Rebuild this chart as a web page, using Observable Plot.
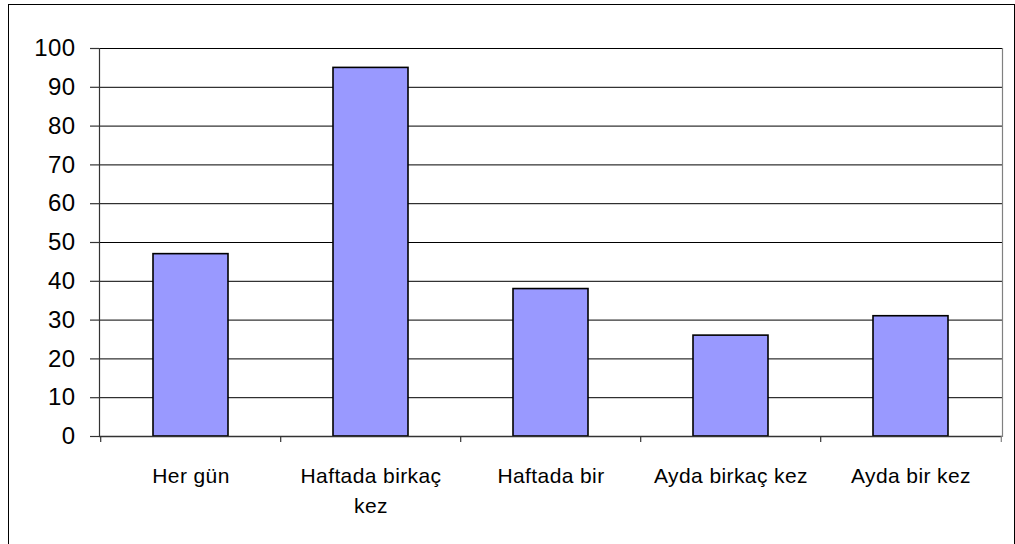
<!DOCTYPE html>
<html>
<head>
<meta charset="utf-8">
<script src="https://cdn.jsdelivr.net/npm/d3@7"></script>
<script src="https://cdn.jsdelivr.net/npm/@observablehq/plot@0.6"></script>
<style>
  html, body { margin: 0; padding: 0; background: #fff; overflow: hidden; }
  #wrap { position: relative; width: 1015px; height: 544px; overflow: hidden; }
  #border { position: absolute; left: 8px; top: 4px; width: 1005px; height: 700px;
            border: 1px solid #000; border-bottom: none; pointer-events: none; }
  #chart { position: absolute; left: 0; top: 0; }
</style>
</head>
<body>
<div id="wrap"><div id="chart"></div><div id="border"></div></div>
<script>
const categories = ["Her gün", "Haftada birkaç kez", "Haftada bir", "Ayda birkaç kez", "Ayda bir kez"];
const values = [47, 95, 38, 26, 31];
const yTicks = [0, 10, 20, 30, 40, 50, 60, 70, 80, 90, 100];

const data = categories.map((c, i) => ({category: c, value: values[i]}));

const W = 1015, H = 544;
const mL = 99, mR = 13, mT = 48, mB = 108;
const step = (W - mL - mR) / categories.length;
const font = "'Liberation Sans', Arial, Helvetica, sans-serif";

const chart = Plot.plot({
  width: W,
  height: H,
  marginLeft: mL,
  marginRight: mR,
  marginTop: mT,
  marginBottom: mB,
  style: {fontFamily: font, color: "#000", background: "#fff", overflow: "visible"},
  x: {domain: categories, paddingInner: 0.585, paddingOuter: 0.2925, label: null},
  y: {domain: [0, 100], label: null},
  marks: [
    Plot.gridY(yTicks, {stroke: "#000", strokeOpacity: 1, strokeWidth: 1}),
    Plot.frame({anchor: "right", stroke: "#808080", strokeWidth: 1.2}),
    Plot.barY(data, {x: "category", y: "value", fill: "#9999FF", stroke: "#000", strokeWidth: 1.6}),
    Plot.frame({anchor: "left", stroke: "#333", strokeWidth: 1.2}),
    Plot.ruleY([0], {stroke: "#333", strokeWidth: 1.4}),
    Plot.axisY(yTicks, {tickSize: 9, tickPadding: 15, fontSize: 24, stroke: "#333", strokeWidth: 1.2, label: null}),
    Plot.axisX(categories, {tickSize: 6, dx: -step / 2, tickFormat: () => "", stroke: "#333", strokeWidth: 1.2, label: null}),
    Plot.axisX(categories.slice(-1), {tickSize: 6, dx: step / 2, tickFormat: () => "", stroke: "#808080", strokeWidth: 1.2, label: null}),
    Plot.axisX(categories, {tickSize: 0, tickPadding: 25, fontSize: 21, lineWidth: 8, lineHeight: 1.43, label: null})
  ]
});

chart.querySelectorAll("text").forEach(t => t.style.letterSpacing = "0.4px");
document.getElementById("chart").appendChild(chart);
</script>
</body>
</html>
